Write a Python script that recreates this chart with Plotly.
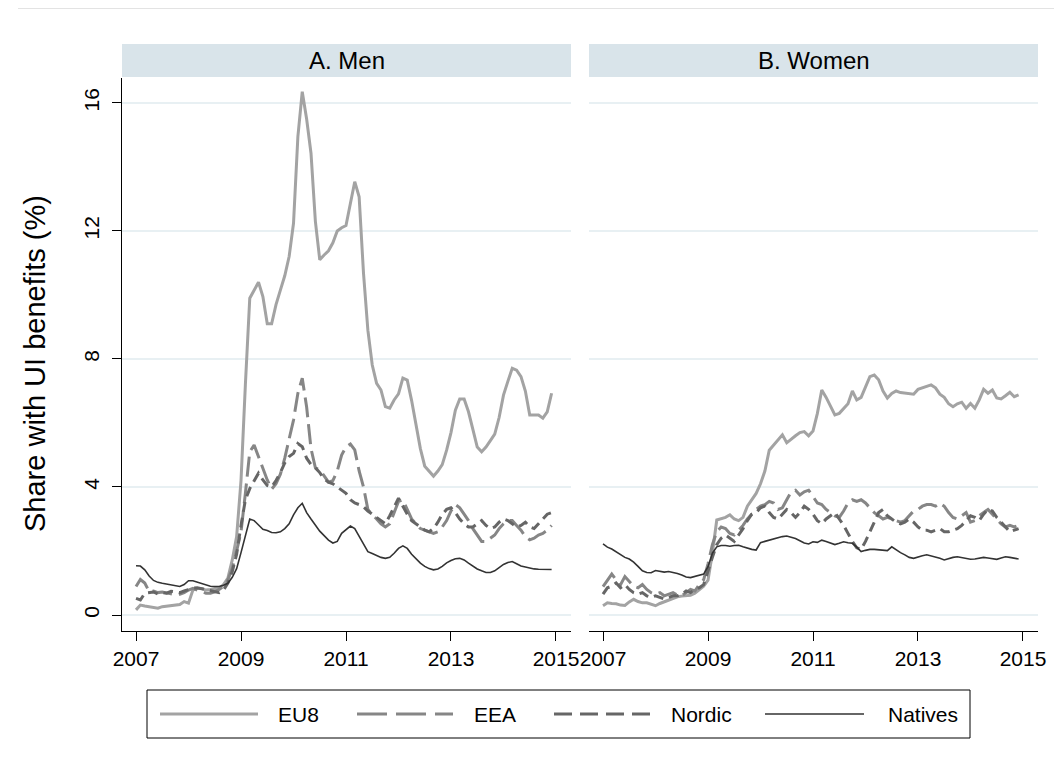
import plotly.graph_objects as go

# ---------------- data (monthly, Jan 2007 - Dec 2014) ----------------
series_names = ["EU8", "EEA", "Nordic", "Natives"]
years = [2007, 2008, 2009, 2010, 2011, 2012, 2013, 2014]
tick_years = [2007, 2009, 2011, 2013, 2015]
y_ticks = [0, 4, 8, 12, 16]
panel_titles = ["A. Men", "B. Women"]
y_title = "Share with UI benefits (%)"

men_eu8 = [
    0.16, 0.31, 0.28, 0.26, 0.24, 0.21, 0.26, 0.28, 0.28, 0.31, 0.33, 0.42,
    0.37, 0.78, 0.83, 0.83, 0.78, 0.80, 0.83, 0.83, 0.95, 1.15, 1.72, 2.45,
    4.20, 7.20, 9.90, 10.15, 10.40, 9.95, 9.10, 9.10, 9.70, 10.15, 10.60, 11.20,
    12.24, 14.95, 16.35, 15.50, 14.43, 12.30, 11.10, 11.25, 11.38, 11.63, 12.00, 12.10,
    12.17, 12.86, 13.54, 13.07, 10.68, 8.90, 7.81, 7.24, 7.03, 6.51, 6.46, 6.72,
    6.91, 7.40, 7.34, 6.70, 5.90, 5.20, 4.65, 4.50, 4.34, 4.50, 4.70, 5.15,
    5.70, 6.40, 6.75, 6.75, 6.35, 5.80, 5.25, 5.10, 5.25, 5.45, 5.65, 6.17,
    6.87, 7.30, 7.71, 7.65, 7.45, 7.00, 6.25, 6.25, 6.25, 6.15, 6.35, 6.93,
]
men_eea = [
    0.89, 1.11, 1.00, 0.73, 0.75, 0.70, 0.72, 0.68, 0.66, 0.63, 0.65, 0.70,
    0.78, 0.83, 0.78, 0.72, 0.68, 0.68, 0.72, 0.80, 0.89, 1.10, 1.45, 2.00,
    2.60, 3.80, 5.10, 5.31, 4.95, 4.60, 4.22, 3.93, 4.10, 4.40, 4.90, 5.50,
    6.09, 6.93, 7.40, 6.50, 5.20, 4.60, 4.53, 4.35, 4.15, 4.20, 4.50, 5.00,
    5.25, 5.34, 5.16, 4.50, 4.00, 3.30, 3.13, 3.00, 2.85, 2.75, 2.85, 3.20,
    3.55, 3.60, 3.30, 3.00, 2.85, 2.70, 2.65, 2.60, 2.55, 2.60, 2.75, 2.95,
    3.25, 3.45, 3.35, 3.15, 2.95, 2.70, 2.50, 2.30, 2.30, 2.40, 2.50, 2.70,
    2.85, 2.95, 2.95, 2.80, 2.65, 2.45, 2.35, 2.40, 2.50, 2.55, 2.65, 2.80,
]
men_nordic = [
    0.52, 0.47, 0.68, 0.70, 0.72, 0.66, 0.70, 0.68, 0.74, 0.72, 0.70, 0.75,
    0.80, 0.84, 0.85, 0.82, 0.78, 0.75, 0.72, 0.70, 0.78, 1.00, 1.35, 1.90,
    2.80, 3.60, 3.95, 4.20, 4.43, 4.22, 4.05, 4.00, 4.20, 4.45, 4.75, 4.95,
    5.05, 5.36, 5.26, 4.90, 4.70, 4.60, 4.45, 4.25, 4.15, 4.10, 4.00, 3.90,
    3.80, 3.60, 3.50, 3.45, 3.38, 3.25, 3.15, 3.05, 2.95, 2.85, 3.10, 3.40,
    3.65, 3.40, 3.15, 2.95, 2.85, 2.75, 2.65, 2.60, 2.70, 2.90, 3.15, 3.30,
    3.35, 3.20, 3.00, 2.85, 2.75, 2.75, 2.85, 2.95, 2.80, 2.70, 2.75, 2.90,
    3.00, 2.95, 2.85, 2.75, 2.80, 2.90, 2.75, 2.70, 2.85, 3.00, 3.15, 3.20,
]
men_natives = [
    1.54, 1.53, 1.41, 1.22, 1.08, 1.02, 0.99, 0.96, 0.94, 0.91, 0.89, 0.95,
    1.07, 1.07, 1.03, 0.99, 0.93, 0.90, 0.89, 0.89, 0.93, 0.99, 1.18, 1.45,
    1.95, 2.45, 3.00, 2.95, 2.80, 2.68, 2.64, 2.58, 2.57, 2.60, 2.70, 2.85,
    3.13, 3.35, 3.49, 3.20, 3.00, 2.81, 2.62, 2.48, 2.34, 2.25, 2.30, 2.55,
    2.68, 2.78, 2.70, 2.45, 2.20, 1.98, 1.92, 1.85, 1.80, 1.77, 1.80, 1.93,
    2.08, 2.16, 2.08, 1.90, 1.75, 1.62, 1.52, 1.45, 1.41, 1.44, 1.52, 1.63,
    1.70, 1.76, 1.77, 1.72, 1.62, 1.52, 1.44, 1.38, 1.33, 1.33, 1.38, 1.48,
    1.58, 1.64, 1.67, 1.60, 1.53, 1.50, 1.46, 1.44, 1.43, 1.43, 1.44, 1.42,
]

women_eu8 = [
    0.29, 0.38, 0.36, 0.35, 0.31, 0.30, 0.41, 0.49, 0.42, 0.38, 0.38, 0.33,
    0.29, 0.36, 0.41, 0.48, 0.52, 0.57, 0.59, 0.61, 0.62, 0.68, 0.78, 0.90,
    1.09, 1.93, 2.97, 3.00, 3.05, 3.13, 3.00, 2.95, 3.05, 3.40, 3.60, 3.80,
    4.10, 4.50, 5.15, 5.30, 5.45, 5.63, 5.38, 5.50, 5.60, 5.70, 5.73, 5.60,
    5.75, 6.30, 7.03, 6.80, 6.50, 6.25, 6.30, 6.45, 6.60, 7.00, 6.72, 6.80,
    7.10, 7.45, 7.50, 7.35, 7.00, 6.78, 6.92, 7.00, 6.95, 6.93, 6.90, 6.90,
    7.05, 7.10, 7.15, 7.19, 7.10, 6.90, 6.80, 6.60, 6.51, 6.60, 6.65, 6.46,
    6.61, 6.46, 6.72, 7.05, 6.93, 7.03, 6.78, 6.75, 6.85, 6.96, 6.82, 6.88,
]
women_eea = [
    0.89, 1.10, 1.28, 1.10, 0.95, 1.20, 1.05, 0.90, 0.85, 0.95, 0.80, 0.70,
    0.65, 0.70, 0.60, 0.65, 0.70, 0.62, 0.60, 0.70, 0.80, 0.75, 0.95, 1.10,
    1.60, 2.20, 2.60, 2.75, 2.70, 2.55, 2.50, 2.65, 2.80, 3.00, 3.15, 3.30,
    3.40, 3.45, 3.55, 3.50, 3.30, 3.35, 3.60, 3.85, 3.90, 3.75, 3.85, 3.90,
    3.70, 3.50, 3.45, 3.30, 3.20, 3.10, 3.05, 3.25, 3.50, 3.60, 3.55, 3.60,
    3.50, 3.35, 3.20, 3.10, 3.00, 3.05, 3.00, 2.95, 2.90, 2.95, 3.10, 3.25,
    3.30, 3.40, 3.45, 3.45, 3.40, 3.50, 3.40, 3.20, 3.05, 3.00, 3.10, 3.20,
    2.90, 2.95, 3.10, 3.20, 3.30, 3.15, 3.00, 2.85, 2.75, 2.80, 2.75, 2.80,
]
women_nordic = [
    0.65, 0.85, 0.90, 1.00, 0.85, 0.95, 0.80, 0.70, 0.65, 0.70, 0.60, 0.55,
    0.60, 0.55, 0.50, 0.55, 0.60, 0.60, 0.65, 0.75, 0.70, 0.80, 0.85, 0.95,
    1.40, 1.80, 2.20, 2.40, 2.50, 2.40, 2.30, 2.50, 2.70, 2.95, 3.15, 3.20,
    3.35, 3.40, 3.20, 3.05, 3.00, 3.15, 3.30, 3.20, 3.05, 3.20, 3.40, 3.30,
    3.15, 2.95, 2.85, 3.00, 3.10, 3.20, 3.00, 2.80, 2.55, 2.30, 2.10, 2.05,
    2.30, 2.60, 2.95, 3.20, 3.30, 3.10, 3.00, 2.90, 2.85, 2.90, 3.00, 2.90,
    2.75, 2.65, 2.65, 2.60, 2.65, 2.70, 2.60, 2.60, 2.65, 2.70, 2.80, 2.95,
    3.10, 3.05, 2.95, 3.15, 3.30, 3.25, 3.05, 2.90, 2.75, 2.60, 2.65, 2.70,
]
women_natives = [
    2.22, 2.12, 2.06, 1.98, 1.88, 1.80, 1.75, 1.65, 1.52, 1.38, 1.33, 1.32,
    1.39, 1.36, 1.34, 1.36, 1.34, 1.30, 1.25, 1.19, 1.17, 1.20, 1.24, 1.28,
    1.51, 1.93, 2.13, 2.17, 2.17, 2.15, 2.17, 2.18, 2.13, 2.08, 2.05, 2.03,
    2.26, 2.30, 2.34, 2.36, 2.40, 2.45, 2.47, 2.43, 2.39, 2.32, 2.25, 2.22,
    2.29, 2.27, 2.34, 2.30, 2.26, 2.20, 2.24, 2.29, 2.26, 2.24, 2.12, 1.98,
    2.02, 2.05, 2.05, 2.03, 2.01, 2.01, 2.13, 2.03, 1.95, 1.88, 1.80, 1.77,
    1.82, 1.85, 1.88, 1.85, 1.82, 1.77, 1.72, 1.77, 1.80, 1.82, 1.80, 1.77,
    1.74, 1.75, 1.77, 1.80, 1.78, 1.76, 1.74, 1.78, 1.82, 1.80, 1.78, 1.75,
]

# ---------------- styling ----------------
# The page body has an 8px default margin, so the figure is offset by 8px.
OFF = 8
W, H = 1046, 753
FONT = "Liberation Sans, Arial, sans-serif"
styles = {
    "EU8": dict(color="#a3a3a3", width=3, dash="solid"),
    "EEA": dict(color="#868686", width=3, dash="20px,7px"),
    "Nordic": dict(color="#666666", width=3, dash="10px,6px"),
    "Natives": dict(color="#333333", width=1.6, dash="solid"),
}
legend_dash = {"EU8": "solid", "EEA": "30px,9px", "Nordic": "18px,8px", "Natives": "solid"}


def px(x):
    return (x - OFF) / W


def py(y):
    return 1 - (y - OFF) / H


months = [y + m / 12 for y in years for m in range(12)]

panels = [
    ("x", "y", dict(zip(series_names, [men_eu8, men_eea, men_nordic, men_natives]))),
    ("x2", "y2", dict(zip(series_names, [women_eu8, women_eea, women_nordic, women_natives]))),
]

fig = go.Figure()
for xa, ya, data in panels:
    for name in series_names:
        st = styles[name]
        fig.add_trace(go.Scatter(
            x=months, y=data[name], mode="lines", name=name,
            xaxis=xa, yaxis=ya, showlegend=False,
            line=dict(color=st["color"], width=st["width"], dash=st["dash"]),
            hoverinfo="skip",
        ))

plot_top, plot_bot = 78, 631
men_l, men_r = 122, 571
wom_l, wom_r = 589, 1038
xrange = [2006.733, 2015.286]
yrange = [-0.5, 16.78]

xcommon = dict(range=xrange, tickvals=tick_years, ticktext=[str(t) for t in tick_years],
               showline=True, linecolor="black", linewidth=1, ticks="outside",
               ticklen=9, tickcolor="black", tickwidth=1, showgrid=False, zeroline=False,
               tickfont=dict(family=FONT, size=21, color="black"))
ycommon = dict(range=yrange, tickvals=y_ticks, showgrid=True, gridcolor="#e8f0f3",
               gridwidth=1.5, zeroline=False,
               domain=[py(plot_bot), py(plot_top)])

fig.update_layout(
    width=W, height=H,
    margin=dict(l=0, r=0, t=0, b=0, autoexpand=False),
    paper_bgcolor="white", plot_bgcolor="white",
    showlegend=False,
    font=dict(family=FONT, size=21, color="black"),
    xaxis=dict(domain=[px(men_l), px(men_r)], anchor="y", **xcommon),
    xaxis2=dict(domain=[px(wom_l), px(wom_r)], anchor="y2", **xcommon),
    yaxis=dict(anchor="x", showline=True, linecolor="black", linewidth=1,
               ticks="outside", ticklen=9, tickcolor="black", tickangle=-90,
               ticklabelstandoff=5,
               tickfont=dict(family=FONT, size=21, color="black"), **ycommon),
    yaxis2=dict(anchor="x2", matches="y", showline=False, ticks="",
                showticklabels=False, **ycommon),
)

shapes = []
annotations = []
# faint outer border line at the very top edge
shapes.append(dict(type="line", xref="paper", yref="paper", x0=px(18), x1=1,
                   y0=1, y1=1, line=dict(color="#e3e3e3", width=2)))
# panel header strips
for (l, r), title in zip([(men_l, men_r), (wom_l, wom_r)], panel_titles):
    shapes.append(dict(type="rect", xref="paper", yref="paper", x0=px(l), x1=px(r),
                       y0=py(77), y1=py(44), fillcolor="#d9e4ea", line=dict(width=0),
                       layer="below"))
    annotations.append(dict(text=title, xref="paper", yref="paper", x=px((l + r) / 2),
                            y=py(60.5), showarrow=False, xanchor="center", yanchor="middle",
                            font=dict(family=FONT, size=24, color="black")))
# y-axis title
annotations.append(dict(text=y_title, xref="paper", yref="paper", x=px(35),
                        y=py(364), textangle=-90, showarrow=False,
                        xanchor="center", yanchor="middle",
                        font=dict(family=FONT, size=29, color="black")))

# legend box (drawn manually to reproduce long key samples)
shapes.append(dict(type="rect", xref="paper", yref="paper", x0=px(147), x1=px(970),
                   y0=py(738), y1=py(690), line=dict(color="black", width=1),
                   fillcolor="white"))
leg_items = [(160, 258, 276), (357, 453, 472), (554, 653, 669), (765, 864, 886)]
for name, (a, b, t) in zip(series_names, leg_items):
    st = styles[name]
    shapes.append(dict(type="line", xref="paper", yref="paper", x0=px(a), x1=px(b),
                       y0=py(714), y1=py(714),
                       line=dict(color=st["color"], width=st["width"], dash=legend_dash[name])))
    annotations.append(dict(text=name, xref="paper", yref="paper", x=px(t), y=py(714),
                            showarrow=False, xanchor="left", yanchor="middle",
                            font=dict(family=FONT, size=21, color="black")))

fig.update_layout(shapes=shapes, annotations=annotations)
fig.write_html("out.html")
